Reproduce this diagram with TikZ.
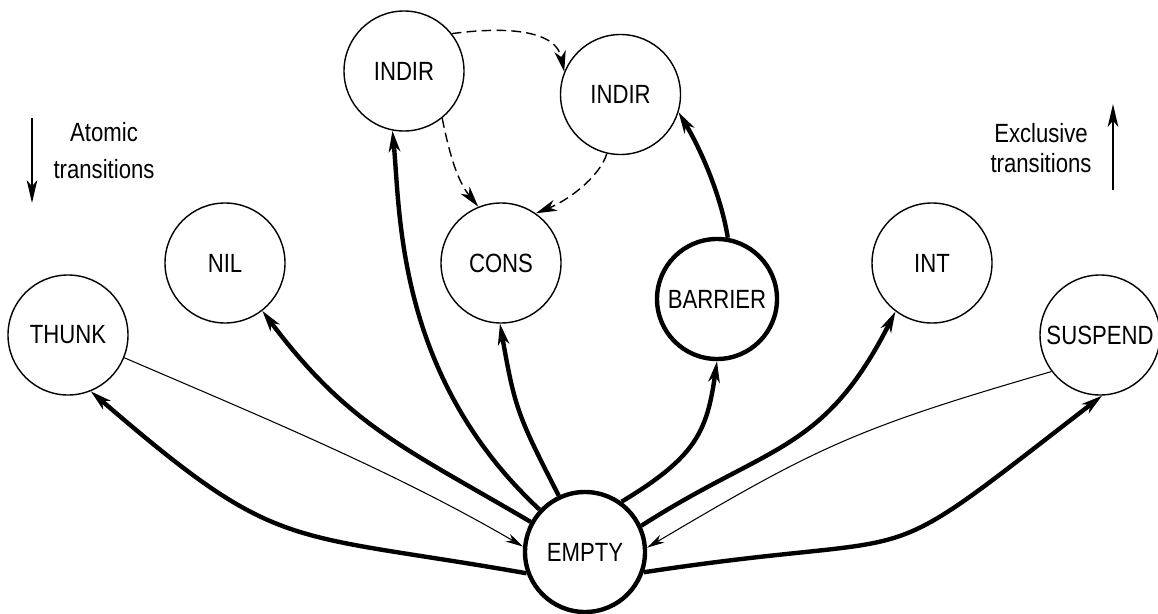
\documentclass[tikz,border=0pt]{standalone}
\usepackage{fontspec}
\newfontfamily\lblfont[FakeStretch=0.84]{Liberation Sans}
\usetikzlibrary{arrows.meta}

\begin{document}
\begin{tikzpicture}[>={Stealth[length=12pt, width=6.5pt, inset=3.5pt]},
  statenode/.style={circle, draw, line width=0.8pt, minimum size=2.4cm,
    inner sep=0pt, font=\lblfont\fontsize{15}{17}\selectfont},
  hot/.style={line width=2.5pt},
  trans/.style={->, line width=2.5pt},
  back/.style={>={Stealth[length=10pt, width=5pt, inset=3pt]}, ->, line width=0.6pt},
  ind/.style={->, line width=0.8pt, dash pattern=on 5.5pt off 3pt},
  legend/.style={font=\lblfont\fontsize{15}{17}\selectfont, anchor=base},
  legarrow/.style={>={Stealth[length=13pt, width=6pt, inset=3.5pt]}, ->}]
  \useasboundingbox (0,0) rectangle (23.16,12.26);
  % States
  \node[statenode] (indirA) at (8.08,10.84) {INDIR};
  \node[statenode] (indirB) at (12.41,10.37) {INDIR};
  \node[statenode] (nil) at (4.50,7.00) {NIL};
  \node[statenode] (cons) at (10.02,7.00) {CONS};
  \node[statenode] (thunk) at (1.36,5.56) {THUNK};
  \node[statenode, hot] (barrier) at (14.34,6.28) {BARRIER};
  \node[statenode] (int) at (18.64,7.00) {INT};
  \node[statenode] (suspend) at (22.00,5.56) {SUSPEND};
  \node[statenode, hot] (empty) at (11.70,1.22) {EMPTY};
  % Transitions out of EMPTY
  \draw[trans] (empty.200) .. controls +(-4.9,0.86) and +(3.78,-3.26) .. (thunk.292);
  \draw[trans] (empty.151) .. controls +(-2.5,1.47) and +(1.72,-2.3) .. (nil.308);
  \draw[trans] (empty.137) .. controls +(-2.88,2.68) and +(0.16,-1.62) .. (indirA.259);
  \draw[trans] (empty.115) .. controls +(-0.82,1.6) and +(0.3,-1.7) .. (cons.269);
  \draw[trans] (empty.54) .. controls +(1.5,0.9) and +(-0.2,-1.4) .. (barrier.270);
  \draw[trans] (barrier.80) .. controls +(-0.12,0.76) and +(0.5,-0.84) .. (indirB.343);
  \draw[trans] (empty.25) .. controls +(2.56,1.64) and +(-1.44,-2.84) .. (int.233);
  \draw[trans] (empty.341) .. controls +(6.04,0.92) and +(-4.84,-3.74) .. (suspend.272);
  % Back to EMPTY
  \draw[back] (thunk.338) .. controls +(2.6,-1.12) and +(-2.6,1.52) .. (empty.175);
  \draw[back] (suspend.217) .. controls +(-3.94,-1.14) and +(3.38,2.0) .. (empty.4);
  % Indirections
  \draw[ind] (indirA.38) .. controls +(1.2,0.16) and +(-0.16,0.8) .. (indirB.158);
  \draw[ind] (indirA.309) .. controls +(0.16,-0.8) and +(-0.4,0.5) .. (cons.112);
  \draw[ind] (indirB.257) .. controls +(-0.16,-0.5) and +(0.6,0.24) .. (cons.55);
  % Legend
  \coordinate (atomTop) at (0.64,9.9);
  \coordinate (atomBot) at (0.64,8.2);
  \draw[legarrow, line width=0.9pt] (atomTop) -- (atomBot);
  \node[legend] (atomA) at (2.08,9.42) {Atomic};
  \node[legend] (atomB) at (2.08,8.70) {transitions};
  \coordinate (exclBot) at (22.26,8.46);
  \coordinate (exclTop) at (22.26,10.18);
  \draw[legarrow, line width=1.3pt] (exclBot) -- (exclTop);
  \node[legend] (exclA) at (20.82,9.40) {Exclusive};
  \node[legend] (exclB) at (20.82,8.80) {transitions};
\end{tikzpicture}
\end{document}
